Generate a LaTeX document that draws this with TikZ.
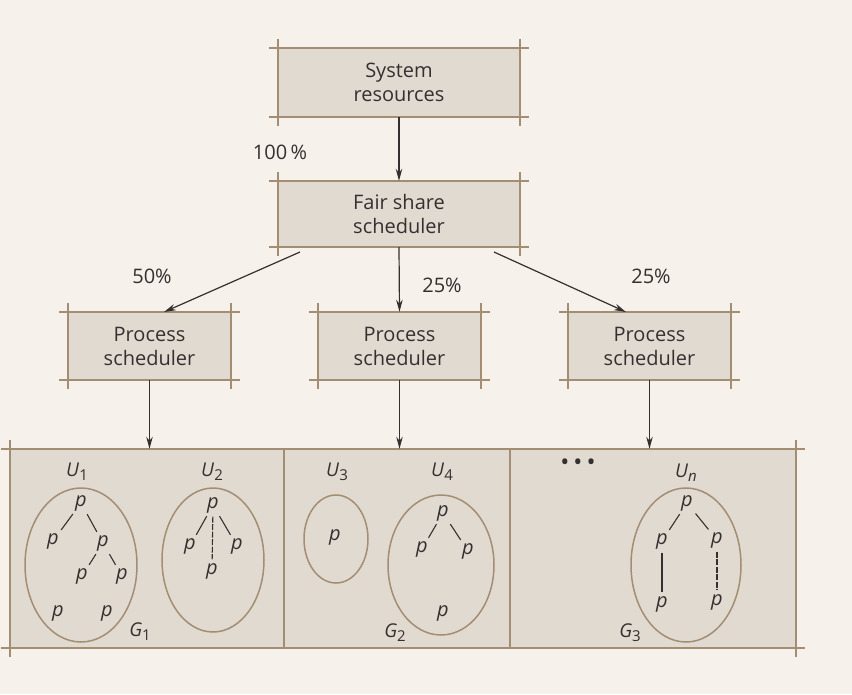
\documentclass[tikz,border=0pt]{standalone}
\usepackage{fontspec}
\setmainfont{Open Sans}
\usetikzlibrary{arrows.meta,calc}
\definecolor{bg}{HTML}{F6F1EA}
\definecolor{boxfill}{HTML}{E1DAD1}
\definecolor{boxline}{HTML}{A38E74}
\definecolor{ink}{HTML}{353030}
\newcommand\extlines[1]{%
  \draw[boxline,line width=1.5pt] ($(#1.north west)+(-9,0)$) -- ($(#1.north east)+(9,0)$)
    ($(#1.south west)+(-9,0)$) -- ($(#1.south east)+(9,0)$)
    ($(#1.north west)+(0,-9)$) -- ($(#1.south west)+(0,9)$)
    ($(#1.north east)+(0,-9)$) -- ($(#1.south east)+(0,9)$);}
\begin{document}
\begin{tikzpicture}[x=1pt,y=-1pt,
  box/.style={fill=boxfill,draw=none,inner sep=0pt,align=center,text=ink,
    font=\fontsize{20}{24}\selectfont},
  lbl/.style={text=ink,font=\fontsize{20}{22}\selectfont,inner sep=0pt},
  arr/.style={draw=ink,line width=1.2pt,-{Stealth[length=12pt,width=6.5pt]}},
  pn/.style={text=ink,font=\fontsize{20}{20}\selectfont\itshape,inner sep=1pt},
  ul/.style={text=ink,font=\fontsize{19}{20}\selectfont\itshape,inner sep=0pt},
  pl/.style={draw=ink,line width=1.1pt,shorten <=2.5pt,shorten >=2.5pt},
  pld/.style={pl,dash pattern=on 6pt off 1.5pt},
  ell/.style={draw=boxline,line width=1.5pt},
]
\fill[bg] (0,0) rectangle (852,694);
\useasboundingbox (0,0) rectangle (852,694);

% top boxes
\node[box,minimum width=242pt,minimum height=69pt] (sys) at (399,82.5) {System\\resources};
\extlines{sys}
\node[box,minimum width=242pt,minimum height=66pt] (fss) at (399,214) {Fair share\\scheduler};
\extlines{fss}
\node[box,minimum width=163pt,minimum height=68pt] (ps1) at (149.5,346) {Process\\scheduler};
\extlines{ps1}
\node[box,minimum width=163pt,minimum height=68pt] (ps2) at (399.5,346) {Process\\scheduler};
\extlines{ps2}
\node[box,minimum width=163pt,minimum height=68pt] (ps3) at (649.5,346) {Process\\scheduler};
\extlines{ps3}

% bottom panel
\node[fill=boxfill,minimum width=786pt,minimum height=199pt,inner sep=0pt] (pan) at (403,548.5) {};
\extlines{pan}
\coordinate (d1t) at (284,449); \coordinate (d1b) at (284,648);
\coordinate (d2t) at (510,449); \coordinate (d2b) at (510,648);
\draw[boxline,line width=1.5pt] (d1t) -- (d1b) (d2t) -- (d2b);

% arrows
\draw[arr] (sys.south) -- (fss.north);
\coordinate (fl) at (300,252);
\coordinate (fr) at (494,252);
\coordinate (t1) at (164,312);
\coordinate (t3) at (626,312);
\draw[arr] (fl) -- (t1);
\draw[arr] (fss.south) -- (ps2.north);
\draw[arr] (fr) -- (t3);
\draw[arr] (ps1.south) -- (ps1.south |- pan.north);
\draw[arr] (ps2.south) -- (ps2.south |- pan.north);
\draw[arr] (ps3.south) -- (ps3.south |- pan.north);

% percentage labels
\node[lbl] (l100) at (280,152) {100\,\%};
\node[lbl] (l50) at (152,276) {50\%};
\node[lbl] (l25a) at (442,285) {25\%};
\node[lbl] (l25b) at (651,276) {25\%};

% ellipses
\draw[ell] (81,565) ellipse [x radius=56, y radius=77];
\draw[ell] (213,560) ellipse [x radius=51, y radius=72];
\draw[ell] (336,539) ellipse [x radius=32, y radius=44];
\draw[ell] (441,565) ellipse [x radius=53, y radius=70];
\draw[ell] (686,565) ellipse [x radius=55, y radius=77];

% user and group labels
\node[ul] (u1) at (77,472) {U\textup{\fontsize{15}{15}\selectfont\raisebox{-4pt}{1}}};
\node[ul] (u2) at (212,472) {U\textup{\fontsize{15}{15}\selectfont\raisebox{-4pt}{2}}};
\node[ul] (u3) at (337,472) {U\textup{\fontsize{15}{15}\selectfont\raisebox{-4pt}{3}}};
\node[ul] (u4) at (442,472) {U\textup{\fontsize{15}{15}\selectfont\raisebox{-4pt}{4}}};
\node[ul] (un) at (686,473) {U\raisebox{-4pt}{\fontsize{15}{15}\selectfont n}};
\node[ul] (g1) at (140,632) {G\textup{\fontsize{15}{15}\selectfont\raisebox{-4pt}{1}}};
\node[ul] (g2) at (395,633) {G\textup{\fontsize{15}{15}\selectfont\raisebox{-4pt}{2}}};
\node[ul] (g3) at (630,633) {G\textup{\fontsize{15}{15}\selectfont\raisebox{-4pt}{3}}};
\node[text=ink,inner sep=0pt,font=\fontsize{24}{24}\selectfont] (dots) at (578,465) {\textbullet\,\textbullet\,\textbullet};

% U1 processes
\node[pn] (a1) at (81,503) {p};
\node[pn] (a2) at (53,541) {p};
\node[pn] (a3) at (103,543) {p};
\node[pn] (a4) at (82,576) {p};
\node[pn] (a5) at (122,576) {p};
\node[pn] (a6) at (58,613) {p};
\node[pn] (a7) at (107,613) {p};
\draw[pl] (a1) -- (a2);
\draw[pl] (a1) -- (a3);
\draw[pl] (a3) -- (a4);
\draw[pl] (a3) -- (a5);

% U2 processes
\node[pn] (b1p) at (213,505) {p};
\node[pn] (b2p) at (190,546) {p};
\node[pn] (b3p) at (237,546) {p};
\node[pn] (b4p) at (212,571) {p};
\draw[pl] (b1p) -- (b2p);
\draw[pl] (b1p) -- (b3p);
\draw[pld] (b1p) -- (b4p);

% U3
\node[pn] (c1) at (335,537) {p};

% U4 processes
\node[pn] (e1) at (443,513) {p};
\node[pn] (e2) at (422,549) {p};
\node[pn] (e3) at (468,551) {p};
\node[pn] (e4) at (443,613) {p};
\draw[pl] (e1) -- (e2);
\draw[pl] (e1) -- (e3);

% Un processes
\node[pn] (f1) at (687,503) {p};
\node[pn] (f2) at (662,541) {p};
\node[pn] (f3) at (717,540) {p};
\node[pn] (f4) at (662,604) {p};
\node[pn] (f5) at (717,602) {p};
\draw[pl] (f1) -- (f2);
\draw[pl] (f1) -- (f3);
\draw[pl] (f2) -- (f4);
\draw[pld] (f3) -- (f5);
\end{tikzpicture}
\end{document}
